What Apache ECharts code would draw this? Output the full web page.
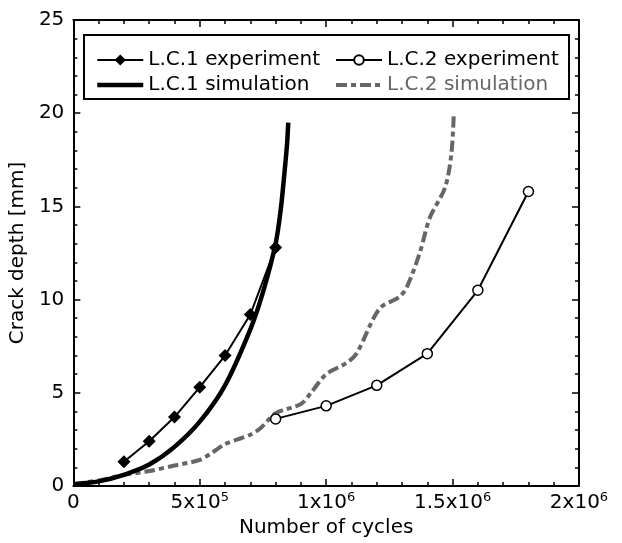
<!DOCTYPE html>
<html>
<head>
<meta charset="utf-8">
<script src="https://cdn.jsdelivr.net/npm/echarts@6/dist/echarts.min.js"></script>
<style>
  html, body { margin: 0; padding: 0; background: #fff; }
  #chart { width: 622px; height: 543px; }
</style>
</head>
<body>
<div id="chart"></div>
<script>
// experiment points
const lc1ExpX = [2e5, 3e5, 4e5, 5e5, 6e5, 7e5, 8e5];
const lc1ExpY = [1.3, 2.4, 3.7, 5.3, 7.0, 9.2, 12.8];
const lc2ExpX = [8e5, 10e5, 12e5, 14e5, 16e5, 18e5];
const lc2ExpY = [3.6, 4.3, 5.4, 7.1, 10.5, 15.8];

// simulation curves
const lc1SimX = [0, 1e5, 2e5, 3e5, 4e5, 5e5, 6e5, 7e5, 7.5e5, 8e5, 8.2e5, 8.35e5, 8.45e5, 8.5e5];
const lc1SimY = [0.1, 0.25, 0.6, 1.15, 2.1, 3.45, 5.4, 8.4, 10.4, 13.0, 14.8, 16.8, 18.3, 19.5];
const lc2SimX = [0, 1e5, 2e5, 3e5, 4e5, 5e5, 5.5e5, 6e5, 6.5e5, 7e5, 7.4e5, 8e5, 9e5, 9.4e5, 10e5,
                 10.8e5, 11.2e5, 12.1e5, 12.9e5, 13.2e5, 13.7e5, 14.1e5, 14.7e5, 14.95e5, 15.05e5];
const lc2SimY = [0.1, 0.3, 0.6, 0.8, 1.1, 1.4, 1.8, 2.25, 2.5, 2.75, 3.1, 3.9, 4.4, 5.0, 6.0,
                 6.6, 7.1, 9.5, 10.15, 10.7, 12.5, 14.4, 16.0, 17.8, 20.0];

const xTickLabels = { 0: '{m|0}', 500000: '{m|5x10}{s|5}', 1000000: '{m|1x10}{s|6}',
                      1500000: '{m|1.5x10}{s|6}', 2000000: '{m|2x10}{s|6}' };

const zip = (xs, ys) => xs.map((x, i) => [x, ys[i]]);

const font = 'DejaVu Sans';
const chart = echarts.init(document.getElementById('chart'), null, { renderer: 'canvas' });

function tick() {
  return { show: true, inside: true, length: 7, lineStyle: { color: '#000', width: 1.5 } };
}
function minor() {
  return { show: true, splitNumber: 5, length: 4, lineStyle: { color: '#000', width: 1.5 } };
}
// onZero off, otherwise the top/right axes jump onto the bottom/left ones
function line() {
  return { show: true, onZero: false, lineStyle: { color: '#000', width: 2 } };
}

let option = {
  animation: false,
  backgroundColor: '#fff',
  textStyle: { fontFamily: font },
  grid: { left: 73, right: 43, top: 20, bottom: 57 },
  xAxis: [
    {
      type: 'value', min: 0, max: 2e6, interval: 5e5,
      name: 'Number of cycles', nameLocation: 'middle', nameGap: 25,
      nameTextStyle: { fontSize: 20, color: '#000', fontFamily: font },
      axisLine: line(), axisTick: tick(), minorTick: minor(),
      splitLine: { show: false },
      axisLabel: {
        margin: 5, fontSize: 20, color: '#000', fontFamily: font,
        formatter: v => xTickLabels[v] || '',
        rich: {
          m: { fontSize: 20, fontFamily: font, color: '#000', lineHeight: 24 },
          s: { fontSize: 13, fontFamily: font, color: '#000', lineHeight: 13, verticalAlign: 'top' }
        }
      }
    },
    {
      type: 'value', min: 0, max: 2e6, interval: 5e5, position: 'top',
      axisLine: line(), axisTick: tick(), minorTick: minor(),
      splitLine: { show: false }, axisLabel: { show: false }
    }
  ],
  yAxis: [
    {
      type: 'value', min: 0, max: 25, interval: 5,
      name: 'Crack depth [mm]', nameLocation: 'middle', nameGap: 21,
      nameTextStyle: { fontSize: 20, color: '#000', fontFamily: font },
      axisLine: line(), axisTick: tick(), minorTick: minor(),
      splitLine: { show: false },
      axisLabel: { margin: 9, fontSize: 20, color: '#000', fontFamily: font }
    },
    {
      type: 'value', min: 0, max: 25, interval: 5, position: 'right',
      axisLine: line(), axisTick: tick(), minorTick: minor(),
      splitLine: { show: false }, axisLabel: { show: false }
    }
  ],
  legend: [
    {
      left: 90, top: 44, orient: 'vertical', itemGap: 3,
      itemWidth: 46, itemHeight: 14,
      textStyle: { fontSize: 20, color: '#000', fontFamily: font, lineHeight: 22 },
      data: ['L.C.1 experiment',
             { name: 'L.C.1 simulation', itemStyle: { opacity: 0 }, lineStyle: { width: 4.5 } }]
    },
    {
      left: 329, top: 44, orient: 'vertical', itemGap: 3,
      itemWidth: 46, itemHeight: 12,
      textStyle: { fontSize: 20, color: '#000', fontFamily: font, lineHeight: 22 },
      data: ['L.C.2 experiment',
             { name: 'L.C.2 simulation', itemStyle: { opacity: 0 }, lineStyle: { width: 4 },
               textStyle: { color: '#666' } }]
    }
  ],
  graphic: [
    {
      type: 'rect', z: 100,
      shape: { x: 84, y: 35, width: 485, height: 64 },
      style: { fill: 'none', stroke: '#000', lineWidth: 2 }
    }
  ],
  series: [
    {
      name: 'L.C.2 simulation', type: 'line', smooth: 0.3, symbol: 'none',
      data: zip(lc2SimX, lc2SimY),
      lineStyle: { color: '#666', width: 4, type: [11, 4, 5, 4], cap: 'butt' },
      itemStyle: { color: '#666' }
    },
    {
      name: 'L.C.1 simulation', type: 'line', smooth: 0.3, symbol: 'none',
      data: zip(lc1SimX, lc1SimY),
      lineStyle: { color: '#000', width: 4.5 },
      itemStyle: { color: '#000' }
    },
    {
      name: 'L.C.1 experiment', type: 'line', symbol: 'diamond', symbolSize: 13,
      data: zip(lc1ExpX, lc1ExpY),
      lineStyle: { color: '#000', width: 2 },
      itemStyle: { color: '#000' }
    },
    {
      name: 'L.C.2 experiment', type: 'line', symbol: 'circle', symbolSize: 10,
      showAllSymbol: true,
      data: zip(lc2ExpX, lc2ExpY),
      lineStyle: { color: '#000', width: 2 },
      itemStyle: { color: '#fff', borderColor: '#000', borderWidth: 1.5 }
    }
  ]
};
chart.setOption(option);
</script>
</body>
</html>
